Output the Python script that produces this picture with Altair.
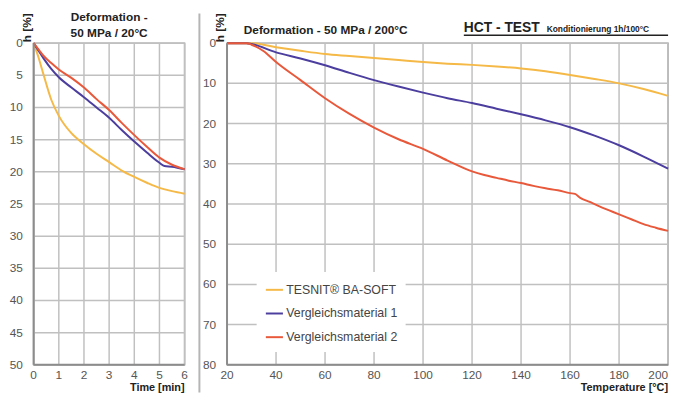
import altair as alt
import pandas as pd

FONT = "Liberation Sans"

series_names = ["TESNIT® BA-SOFT", "Vergleichsmaterial 1", "Vergleichsmaterial 2"]
series_colors = ["#F5B947", "#4B3E9E", "#E8583B"]

# ---- Left panel: Deformation 50 MPa / 20°C (time in min, h in %)
t_yellow = [0, 0.2, 0.4, 0.7, 1.0, 1.5, 2, 2.5, 3, 3.5, 4, 4.5, 5, 5.5, 6]
h_yellow = [0, 2.3, 5.0, 8.8, 11.3, 14.0, 15.7, 17.2, 18.5, 19.8, 20.8, 21.7, 22.5, 23.0, 23.4]
t_blue = [0, 0.2, 0.4, 0.7, 1.0, 1.5, 2, 2.5, 3, 3.5, 4, 4.5, 5, 5.2, 5.5, 6]
h_blue = [0, 1.2, 2.4, 4.0, 5.3, 6.9, 8.4, 10.0, 11.6, 13.5, 15.3, 17.0, 18.6, 19.1, 19.2, 19.6]
t_red = [0, 0.2, 0.4, 0.7, 1.0, 1.5, 2, 2.5, 3, 3.5, 4, 4.5, 5, 5.5, 6]
h_red = [0, 1.0, 2.0, 3.1, 4.1, 5.4, 6.9, 8.7, 10.4, 12.4, 14.3, 16.1, 17.8, 18.9, 19.6]
time_ticks = [0, 1, 2, 3, 4, 5, 6]
h_ticks_left = [0, 5, 10, 15, 20, 25, 30, 35, 40, 45, 50]

# ---- Right panel: Deformation 50 MPa / 200°C (temperature in °C, h in %)
T_yellow = [20, 30, 40, 50, 60, 70, 80, 90, 100, 110, 120, 130, 140, 150, 160, 170, 180, 190, 200]
H_yellow = [0, 0, 1.0, 1.9, 2.7, 3.2, 3.7, 4.2, 4.7, 5.1, 5.4, 5.8, 6.3, 7.0, 7.9, 8.9, 10.0, 11.4, 13.1]
T_blue = [20, 28, 30, 40, 50, 60, 70, 80, 90, 100, 110, 120, 130, 140, 150, 160, 170, 180, 190, 200]
H_blue = [0, 0, 0.2, 2.3, 3.8, 5.5, 7.4, 9.2, 10.8, 12.3, 13.7, 14.9, 16.3, 17.7, 19.2, 20.9, 23.0, 25.4, 28.2, 31.2]
T_red = [20, 28, 30, 35, 40, 50, 60, 70, 80, 90, 100, 110, 120, 125, 130, 135, 140, 145, 150, 155,
         160, 162, 164, 168, 172, 176, 180, 185, 190, 195, 200]
H_red = [0, 0, 0.4, 2.0, 4.7, 9.2, 13.7, 17.6, 21.0, 23.9, 26.3, 29.2, 31.9, 32.8, 33.5, 34.2, 34.8, 35.5, 36.1, 36.6,
         37.3, 37.5, 38.4, 39.5, 40.6, 41.6, 42.6, 43.8, 45.0, 45.9, 46.7]
temp_ticks = [20, 40, 60, 80, 100, 120, 140, 160, 180, 200]
h_ticks_right = [0, 10, 20, 30, 40, 50, 60, 70, 80]


def long_frame(xs_list, ys_list):
    rows = []
    for name, xs, ys in zip(series_names, xs_list, ys_list):
        for i, (x, y) in enumerate(zip(xs, ys)):
            rows.append({"x": x, "h": y, "series": name, "order": i})
    return pd.DataFrame(rows)


left_df = long_frame([t_yellow, t_blue, t_red], [h_yellow, h_blue, h_red])
right_df = long_frame([T_yellow, T_blue, T_red], [H_yellow, H_blue, H_red])

LW, LH = 153, 326
RW, RH = 447, 326
GRID = "#c0c0c0"
DOMAIN = "#8c8c8c"
LABEL = "#555555"


def text_mark(text, x, y, size, align="center", baseline="middle", angle=0, color="#222222"):
    return alt.Chart(pd.DataFrame({"t": [text]})).mark_text(
        align=align, baseline=baseline, fontSize=size, fontWeight="bold", font=FONT, color=color,
        angle=angle
    ).encode(text="t:N", x=alt.value(x), y=alt.value(y))


def make_panel(df, xticks, yticks, xdom, ydom, xtitle, w, h, legend, flush_last):
    xs = alt.Scale(domain=xdom, nice=False, zero=False)
    ys = alt.Scale(domain=ydom, reverse=True, nice=False, zero=False)
    layers = []
    # grid lines from the tick arrays
    layers.append(alt.Chart(pd.DataFrame({"x": xticks})).mark_rule(stroke=GRID, strokeWidth=1.5).encode(
        x=alt.X("x:Q", scale=xs, axis=None)))
    layers.append(alt.Chart(pd.DataFrame({"h": yticks})).mark_rule(stroke=GRID, strokeWidth=1.5).encode(
        y=alt.Y("h:Q", scale=ys, axis=None)))
    # data lines
    layers.append(alt.Chart(df).mark_line(strokeWidth=2, interpolate="monotone").encode(
        x=alt.X("x:Q", scale=xs, axis=None),
        y=alt.Y("h:Q", scale=ys, axis=None),
        color=alt.Color("series:N", scale=alt.Scale(domain=series_names, range=series_colors), legend=legend),
        order="order:Q",
    ))
    # axis domain lines (left and bottom)
    layers.append(alt.Chart(pd.DataFrame({"a": [0]})).mark_rule(color=DOMAIN, strokeWidth=2).encode(
        x=alt.value(0), y=alt.value(0), y2=alt.value(h)))
    layers.append(alt.Chart(pd.DataFrame({"a": [0]})).mark_rule(color=DOMAIN, strokeWidth=2).encode(
        x=alt.value(0), x2=alt.value(w), y=alt.value(h)))
    # tick labels drawn from the tick arrays through the scales
    ylab = alt.Chart(pd.DataFrame({"h": yticks})).mark_text(
        align="right", baseline="middle", fontSize=12, font=FONT, color=LABEL).encode(
        y=alt.Y("h:Q", scale=ys, axis=None), x=alt.value(-11), text=alt.Text("h:Q", format="d"))
    layers.append(ylab)
    main_x = xticks[:-1] if flush_last else xticks
    layers.append(alt.Chart(pd.DataFrame({"x": main_x})).mark_text(
        align="center", baseline="top", fontSize=12, font=FONT, color=LABEL).encode(
        x=alt.X("x:Q", scale=xs, axis=None), y=alt.value(h + 5), text=alt.Text("x:Q", format="d")))
    if flush_last:
        layers.append(alt.Chart(pd.DataFrame({"x": xticks[-1:]})).mark_text(
            align="right", baseline="top", fontSize=12, font=FONT, color=LABEL).encode(
            x=alt.X("x:Q", scale=xs, axis=None), y=alt.value(h + 5), text=alt.Text("x:Q", format="d")))
    # axis titles
    layers.append(text_mark("h [%]", -7, -1, 12, align="left", baseline="middle", angle=270))
    layers.append(text_mark(xtitle, w, h + 29, 11, align="right", baseline="bottom"))
    return layers


left = alt.layer(
    *make_panel(left_df, time_ticks, h_ticks_left, [0, 6], [0, 50], "Time [min]", LW, LH, None, False),
    text_mark("Deformation -", LW / 2, -26, 12),
    text_mark("50 MPa / 20°C", LW / 2, -10, 12),
).properties(width=LW, height=LH)

right_legend = alt.Legend(
    orient="none", legendX=30, legendY=232, title=None, symbolType="stroke", symbolSize=300,
    symbolStrokeWidth=2, labelFontSize=12.5, labelFont=FONT, labelColor="#444444",
    fillColor="white", padding=8, rowPadding=7, labelOffset=2, zindex=1)

underline = alt.Chart(pd.DataFrame({"a": [0]})).mark_rule(color="#222222", strokeWidth=1.5).encode(
    x=alt.value(240), x2=alt.value(RW), y=alt.value(-8))
separator = alt.Chart(pd.DataFrame({"a": [0]})).mark_rule(color="#b5b5b5", strokeWidth=2).encode(
    x=alt.value(-28), y=alt.value(-30), y2=alt.value(RH + 28))

right = alt.layer(
    *make_panel(right_df, temp_ticks, h_ticks_right, [20, 200], [0, 80], "Temperature [°C]", RW, RH,
                right_legend, True),
    text_mark("Deformation - 50 MPa / 200°C", 17, -13, 12, align="left"),
    text_mark("HCT - TEST", 240, -15, 14, align="left"),
    text_mark("Konditionierung 1h/100°C", 324, -11, 8.5, align="left", baseline="alphabetic"),
    underline,
    separator,
).properties(width=RW, height=RH)

chart = alt.hconcat(left, right, spacing=8).resolve_scale(color="independent").properties(
    padding=0, background="white"
).configure_view(stroke="#9a9a9a", strokeWidth=1.5)

chart.save("out.html", embed_options={"renderer": "svg", "actions": False})
